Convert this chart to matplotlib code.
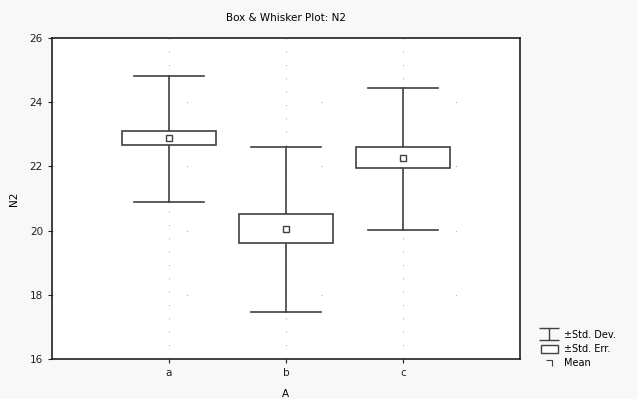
import matplotlib
matplotlib.use('Agg')
import matplotlib.pyplot as plt
from matplotlib.path import Path
from matplotlib.lines import Line2D
from matplotlib.patches import Rectangle

# data
groups = ['a', 'b', 'c']
means = [22.88, 20.05, 22.26]
se_low = [22.67, 19.61, 21.95]
se_high = [23.10, 20.52, 22.60]
sd_low = [20.89, 17.46, 20.02]
sd_high = [24.82, 22.60, 24.44]
yticks = [16, 18, 20, 22, 24, 26]

ink = '#404040'

fig = plt.figure(figsize=(6.37, 3.99), dpi=100, facecolor='#f8f8f8')
ax = fig.add_axes([0.0816, 0.1003, 0.7347, 0.8045])
ax.set_facecolor('white')

pos = list(range(1, len(groups) + 1))

# sparse dotted grid
for y in yticks[1:-1]:
    ax.axhline(y, color='#b0b0b0', lw=0.8, ls=(0, (1, 120)), zorder=0)
for x in pos:
    ax.axvline(x, color='#b0b0b0', lw=0.8, ls=(0, (1, 11)), zorder=0)

for x, m, lo, hi, dlo, dhi in zip(pos, means, se_low, se_high, sd_low, sd_high):
    # whiskers (std dev)
    ax.plot([x, x], [dhi, hi], color=ink, lw=1.2, zorder=2)
    ax.plot([x, x], [lo, dlo], color=ink, lw=1.2, zorder=2)
    ax.plot([x - 0.3, x + 0.3], [dhi, dhi], color=ink, lw=1.2, zorder=2)
    ax.plot([x - 0.3, x + 0.3], [dlo, dlo], color=ink, lw=1.2, zorder=2)
    # box (std err)
    ax.add_patch(Rectangle((x - 0.4, lo), 0.8, hi - lo, facecolor='white',
                           edgecolor=ink, lw=1.2, zorder=3))
    # mean
    ax.plot(x, m, marker='s', ms=4, mfc='white', mec=ink, mew=1.0, zorder=4)

ax.set_xlim(0, 4)
ax.set_ylim(16, 26)
ax.set_xticks(pos)
ax.set_xticklabels(groups)
ax.set_yticks(yticks)
ax.tick_params(labelsize=7.5, length=3, width=0.8, colors='#202020')
for s in ax.spines.values():
    s.set_color('#202020')
    s.set_linewidth(1.2)

ax.set_title('Box & Whisker Plot: N2', fontsize=7.5, pad=12)
ax.set_xlabel('A', fontsize=7.5, labelpad=8)
ax.set_ylabel('N2', fontsize=7.5)
ax.yaxis.set_label_coords(-0.07, 0.5)

# legend
ibeam = Path([(-1.6, 1), (1.6, 1), (0, 1), (0, -1), (-1.6, -1), (1.6, -1)],
             [Path.MOVETO, Path.LINETO, Path.MOVETO, Path.LINETO, Path.MOVETO, Path.LINETO])
tick = Path([(-1, 1), (1, 1), (1, -1)], [Path.MOVETO, Path.LINETO, Path.LINETO])
h1 = Line2D([], [], ls='none', marker=ibeam, ms=14, mfc='none', mec=ink, mew=1.0)
h2 = Rectangle((0, 0), 1, 1, facecolor='white', edgecolor=ink, lw=1.0)
h3 = Line2D([], [], ls='none', marker=tick, ms=4, mfc='none', mec=ink, mew=0.8)
fig.legend([h1, h2, h3], ['±Std. Dev.', '±Std. Err.', 'Mean'],
           loc='lower left', bbox_to_anchor=(0.835, 0.055), frameon=False,
           fontsize=7, handlelength=1.8, handleheight=0.9, handletextpad=0.6,
           labelspacing=0.45)

plt.savefig('out.png', dpi=100, facecolor=fig.get_facecolor())
